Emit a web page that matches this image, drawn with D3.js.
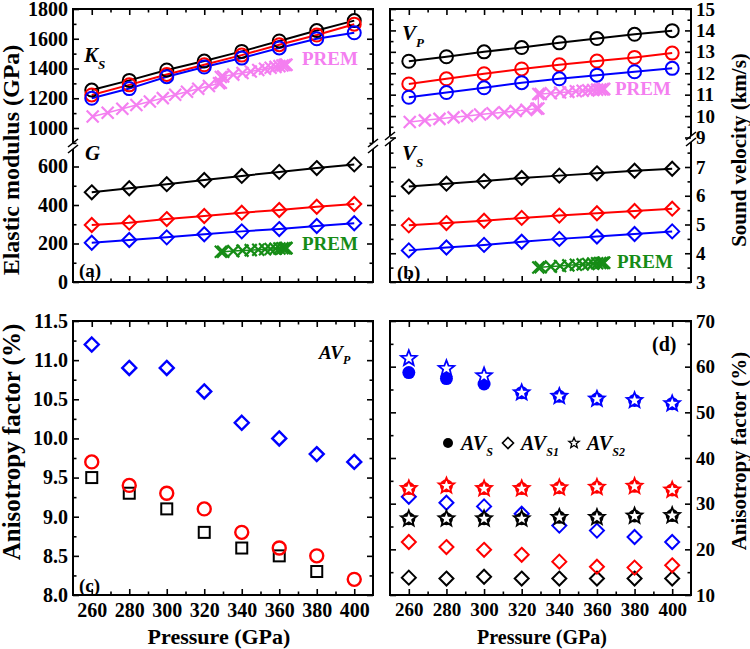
<!DOCTYPE html>
<html><head><meta charset="utf-8">
<script src="https://cdn.jsdelivr.net/npm/d3@7"></script>
<style>
body{margin:0;background:#fff}
svg{display:block}
text{font-family:"Liberation Serif","Times New Roman",serif;font-weight:bold}
</style>
</head><body><svg id="c" width="750" height="649"></svg>
<script>
// ---------------- data ----------------
const pressure = [260, 280, 300, 320, 340, 360, 380, 400];
const xTicks = [260, 280, 300, 320, 340, 360, 380, 400];

// (a) elastic moduli (GPa)
const KsBlack = [1255, 1320, 1390, 1450, 1515, 1585, 1655, 1722];
const KsRed   = [1222, 1290, 1360, 1425, 1490, 1560, 1625, 1698];
const KsBlue  = [1200, 1265, 1345, 1410, 1470, 1538, 1600, 1640];
const GBlack  = [466, 487, 508, 530, 551, 572, 592, 611];
const GRed    = [296, 308, 327, 343, 360, 374, 391, 405];
const GBlue   = [204, 218, 232, 248, 263, 275, 291, 305];

// (b) sound velocities (km/s)
const VpBlack = [12.56, 12.77, 13.0, 13.2, 13.42, 13.62, 13.82, 13.99];
const VpRed   = [11.5, 11.74, 11.98, 12.2, 12.4, 12.57, 12.74, 12.94];
const VpBlue  = [10.88, 11.1, 11.32, 11.56, 11.74, 11.91, 12.07, 12.23];
const VsBlack = [6.32, 6.42, 6.51, 6.62, 6.7, 6.78, 6.87, 6.94];
const VsRed   = [4.97, 5.05, 5.13, 5.23, 5.31, 5.39, 5.47, 5.55];
const VsBlue  = [4.1, 4.2, 4.29, 4.4, 4.5, 4.58, 4.67, 4.76];

// PREM (outer + inner core)
const premP   = [260.5, 268.5, 276.3, 283.8, 291.0, 297.9, 304.5, 310.8, 316.8, 322.5, 327.9, 328.85,
                 328.85, 330.1, 335.5, 340.4, 344.8, 348.8, 352.4, 355.4, 358.0, 360.1, 361.7, 362.9, 363.6, 363.85];
const premKs  = [1077, 1103, 1129, 1154, 1178, 1201, 1223, 1244, 1264, 1283, 1301, 1304.7,
                 1343.4, 1346, 1359, 1370, 1380, 1390, 1398, 1405, 1411, 1416, 1420, 1423, 1424.7, 1425.3];
const premVp  = [9.72, 9.8, 9.87, 9.94, 10.0, 10.07, 10.13, 10.18, 10.24, 10.29, 10.34, 10.356,
                 11.028, 11.032, 11.07, 11.1, 11.13, 11.16, 11.18, 11.2, 11.22, 11.235, 11.245, 11.255, 11.26, 11.262];
const premPin = [328.85, 330.1, 335.5, 340.4, 344.8, 348.8, 352.4, 355.4, 358.0, 360.1, 361.7, 362.9, 363.6, 363.85];
const premG   = [156.7, 157.4, 160.4, 163.1, 165.5, 167.7, 169.7, 171.4, 172.8, 174.0, 174.9, 175.5, 175.9, 176.1];
const premVs  = [3.504, 3.51, 3.535, 3.558, 3.579, 3.597, 3.614, 3.628, 3.64, 3.65, 3.658, 3.663, 3.667, 3.668];

// (c) AVp (%)
const AVpBlack = [9.5, 9.3, 9.1, 8.8, 8.6, 8.5, 8.3, null];
const AVpRed   = [9.7, 9.4, 9.3, 9.1, 8.8, 8.6, 8.5, 8.2];
const AVpBlue  = [11.2, 10.9, 10.9, 10.6, 10.2, 10.0, 9.8, 9.7];

// (d) AVs, AVs1, AVs2 (%)
const AVsBlue   = [58.7, 57.4, 56.2, 54.3, 53.5, 52.9, 52.6, 51.9];
const AVs2Blue  = [61.8, 59.6, 58.0, 54.3, 53.5, 52.9, 52.6, 51.9];
const AVs1Blue  = [31.5, 30.2, 29.4, 27.8, 25.2, 24.1, 22.7, 21.6];
const AVsRed    = [33.3, 33.9, 33.3, 33.3, 33.5, 33.6, 33.8, 33.0];
const AVs2Red   = [33.3, 33.9, 33.3, 33.3, 33.5, 33.6, 33.8, 33.0];
const AVs1Red   = [21.6, 20.5, 19.9, 18.8, 17.3, 16.2, 16.0, 16.5];
const AVsBlack  = [26.7, 26.7, 26.7, 26.7, 27.0, 27.0, 27.3, 27.4];
const AVs2Black = [26.7, 26.7, 26.7, 26.7, 27.0, 27.0, 27.3, 27.4];
const AVs1Black = [13.8, 13.6, 14.0, 13.6, 13.6, 13.6, 13.6, 13.6];

// ---------------- drawing ----------------
const BLACK = "#000", RED = "#ff0000", BLUE = "#0000ff", PINK = "#f47ff0", GREEN = "#168c16";
const svg = d3.select("#c");
const P = {
  a: {x0: 73, x1: 373, y0: 9, y1: 282, brk: 146},
  b: {x0: 390, x1: 691, y0: 9, y1: 282, brk: 139},
  c: {x0: 73, x1: 373, y0: 321, y1: 595},
  d: {x0: 390, x1: 691, y0: 321, y1: 595}
};
const xs = {};
for (const k of ["a","b","c","d"]) xs[k] = d3.scaleLinear().domain([250, 410]).range([P[k].x0, P[k].x1]);

// y scales
const yaU = d3.scaleLinear().domain([1000, 1800]).range([128, 9]);
const yaL = d3.scaleLinear().domain([0, 600]).range([282, 166.5]);
const ybU = d3.scaleLinear().domain([9, 15]).range([137.5, 9]);
const ybL = d3.scaleLinear().domain([3, 7]).range([282, 167]);
const yc  = d3.scaleLinear().domain([8, 11.5]).range([595, 321]);
const yd  = d3.scaleLinear().domain([10, 70]).range([595, 321]);

function styleAxis(g, fs) {
  g.select(".domain").remove();
  g.selectAll(".tick line").attr("stroke", "#000").attr("stroke-width", 1.6);
  g.selectAll("text").style("font-size", fs + "px").style("fill", "#000");
}
function xAxes(k, labels, fs) {
  const p = P[k], x = xs[k];
  const minor = [270, 290, 310, 330, 350, 370, 390];
  let g = svg.append("g").attr("transform", `translate(0,${p.y1})`)
    .call(d3.axisBottom(x).tickValues(xTicks).tickSizeInner(-6).tickSizeOuter(0).tickPadding(8)
      .tickFormat(labels ? d3.format("d") : () => ""));
  styleAxis(g, fs);
  g = svg.append("g").attr("transform", `translate(0,${p.y1})`)
    .call(d3.axisBottom(x).tickValues(minor).tickSizeInner(-3.5).tickSizeOuter(0).tickFormat(() => ""));
  styleAxis(g, fs);
  g = svg.append("g").attr("transform", `translate(0,${p.y0})`)
    .call(d3.axisTop(x).tickValues(xTicks).tickSizeInner(-6).tickSizeOuter(0).tickFormat(() => ""));
  styleAxis(g, fs);
  g = svg.append("g").attr("transform", `translate(0,${p.y0})`)
    .call(d3.axisTop(x).tickValues(minor).tickSizeInner(-3.5).tickSizeOuter(0).tickFormat(() => ""));
  styleAxis(g, fs);
}
function yAxes(k, scale, major, minor, labelSide, fmt, fs) {
  const p = P[k];
  let g = svg.append("g").attr("transform", `translate(${p.x0},0)`)
    .call(d3.axisLeft(scale).tickValues(major).tickSizeInner(-6).tickSizeOuter(0).tickPadding(5)
      .tickFormat(labelSide === "left" ? fmt : () => ""));
  styleAxis(g, fs);
  g = svg.append("g").attr("transform", `translate(${p.x0},0)`)
    .call(d3.axisLeft(scale).tickValues(minor).tickSizeInner(-3.5).tickSizeOuter(0).tickFormat(() => ""));
  styleAxis(g, fs);
  g = svg.append("g").attr("transform", `translate(${p.x1},0)`)
    .call(d3.axisRight(scale).tickValues(major).tickSizeInner(-6).tickSizeOuter(0).tickPadding(5)
      .tickFormat(labelSide === "right" ? fmt : () => ""));
  styleAxis(g, fs);
  g = svg.append("g").attr("transform", `translate(${p.x1},0)`)
    .call(d3.axisRight(scale).tickValues(minor).tickSizeInner(-3.5).tickSizeOuter(0).tickFormat(() => ""));
  styleAxis(g, fs);
}
function frame(k) {
  const p = P[k];
  const f = svg.append("g").attr("stroke", "#000").attr("stroke-width", 2).attr("fill", "none");
  f.append("line").attr("x1", p.x0 - 1).attr("x2", p.x1 + 1).attr("y1", p.y0).attr("y2", p.y0);
  f.append("line").attr("x1", p.x0 - 1).attr("x2", p.x1 + 1).attr("y1", p.y1).attr("y2", p.y1);
  for (const x of [p.x0, p.x1]) {
    if (p.brk) {
      f.append("line").attr("x1", x).attr("x2", x).attr("y1", p.y0).attr("y2", p.brk - 3);
      f.append("line").attr("x1", x).attr("x2", x).attr("y1", p.brk + 3).attr("y2", p.y1);
      for (const d of [-3, 3]) {
        f.append("line").attr("stroke-width", 1.6)
          .attr("x1", x - 5).attr("y1", p.brk + d + 4).attr("x2", x + 5).attr("y2", p.brk + d - 4);
      }
    } else {
      f.append("line").attr("x1", x).attr("x2", x).attr("y1", p.y0).attr("y2", p.y1);
    }
  }
}

// markers
const diamondPath = r => `M0,${-r}L${r},0L0,${r}L${-r},0Z`;
const starPath = (R, r) => {
  let s = "";
  for (let i = 0; i < 10; i++) {
    const a = -Math.PI / 2 + i * Math.PI / 5, rr = i % 2 ? r : R;
    s += (i ? "L" : "M") + (rr * Math.cos(a)).toFixed(2) + "," + (rr * Math.sin(a)).toFixed(2);
  }
  return s + "Z";
};
function pts(xv, yv) { return xv.map((x, i) => [x, yv[i]]).filter(d => d[1] != null); }
function line(k, ys, xv, yv, color, w) {
  svg.append("path").datum(pts(xv, yv)).attr("fill", "none").attr("stroke", color).attr("stroke-width", w || 2)
    .attr("d", d3.line().x(d => xs[k](d[0])).y(d => ys(d[1])));
}
function marks(k, ys, xv, yv, type, color, opt = {}) {
  const g = svg.append("g");
  const sel = g.selectAll("x").data(pts(xv, yv)).enter();
  const tx = d => `translate(${xs[k](d[0])},${ys(d[1])})`;
  if (type === "circle") sel.append("circle").attr("r", opt.r || 6.5).attr("transform", tx)
      .attr("fill", opt.fill || "none").attr("stroke", opt.sw === 0 ? "none" : color).attr("stroke-width", opt.sw || 2);
  if (type === "diamond") sel.append("path").attr("d", diamondPath(opt.r || 7)).attr("transform", tx)
      .attr("fill", "none").attr("stroke", color).attr("stroke-width", opt.sw || 2);
  if (type === "square") sel.append("rect").attr("x", -5.5).attr("y", -5.5).attr("width", 11).attr("height", 11)
      .attr("transform", tx).attr("fill", "none").attr("stroke", color).attr("stroke-width", 2);
  if (type === "cross") sel.append("path").attr("d", `M-6,-6L6,6M-6,6L6,-6`).attr("transform", tx)
      .attr("stroke", color).attr("stroke-width", opt.sw || 2.2).attr("fill", "none");
  if (type === "star") sel.append("path").attr("d", starPath(8.2, 3.5)).attr("transform", tx)
      .attr("fill", "#fff").attr("stroke", color).attr("stroke-width", 1.8);
}

// ---- panel (a)
xAxes("a", false, 20);
yAxes("a", yaU, [1000, 1200, 1400, 1600, 1800], [900, 1100, 1300, 1500, 1700], "left", d3.format("d"), 20);
yAxes("a", yaL, [0, 200, 400, 600], [100, 300, 500], "left", d3.format("d"), 20);
frame("a");
line("a", yaU, premP, premKs, PINK, 1.5);
marks("a", yaU, premP, premKs, "cross", PINK);
line("a", yaU, pressure, KsBlack, BLACK); line("a", yaU, pressure, KsRed, RED); line("a", yaU, pressure, KsBlue, BLUE);
marks("a", yaU, pressure, KsBlack, "circle", BLACK);
marks("a", yaU, pressure, KsRed, "circle", RED);
marks("a", yaU, pressure, KsBlue, "circle", BLUE);
line("a", yaL, pressure, GBlack, BLACK); line("a", yaL, pressure, GRed, RED); line("a", yaL, pressure, GBlue, BLUE);
marks("a", yaL, pressure, GBlack, "diamond", BLACK);
marks("a", yaL, pressure, GRed, "diamond", RED);
marks("a", yaL, pressure, GBlue, "diamond", BLUE);
line("a", yaL, premPin, premG, GREEN, 1.5);
marks("a", yaL, premPin, premG, "cross", GREEN);

// ---- panel (b)
xAxes("b", false, 19);
yAxes("b", ybU, [9, 10, 11, 12, 13, 14, 15], [9.5, 10.5, 11.5, 12.5, 13.5, 14.5], "right", d3.format("d"), 19);
yAxes("b", ybL, [3, 4, 5, 6, 7], [3.5, 4.5, 5.5, 6.5, 7.5], "right", d3.format("d"), 19);
frame("b");
line("b", ybU, pressure, VpBlack, BLACK); line("b", ybU, pressure, VpRed, RED); line("b", ybU, pressure, VpBlue, BLUE);
marks("b", ybU, pressure, VpBlack, "circle", BLACK);
marks("b", ybU, pressure, VpRed, "circle", RED);
marks("b", ybU, pressure, VpBlue, "circle", BLUE);
line("b", ybU, premP, premVp, PINK, 1.5);
marks("b", ybU, premP, premVp, "cross", PINK);
line("b", ybL, pressure, VsBlack, BLACK); line("b", ybL, pressure, VsRed, RED); line("b", ybL, pressure, VsBlue, BLUE);
marks("b", ybL, pressure, VsBlack, "diamond", BLACK);
marks("b", ybL, pressure, VsRed, "diamond", RED);
marks("b", ybL, pressure, VsBlue, "diamond", BLUE);
line("b", ybL, premPin, premVs, GREEN, 1.5);
marks("b", ybL, premPin, premVs, "cross", GREEN);

// ---- panel (c)
xAxes("c", true, 20);
yAxes("c", yc, [8, 8.5, 9, 9.5, 10, 10.5, 11, 11.5], [8.25, 8.75, 9.25, 9.75, 10.25, 10.75, 11.25], "left", d3.format(".1f"), 20);
frame("c");
marks("c", yc, pressure, AVpBlack, "square", BLACK);
marks("c", yc, pressure, AVpRed, "circle", RED, {sw: 2.4});
marks("c", yc, pressure, AVpBlue, "diamond", BLUE, {sw: 2.4});

// ---- panel (d)
xAxes("d", true, 19);
yAxes("d", yd, [10, 20, 30, 40, 50, 60, 70], [15, 25, 35, 45, 55, 65], "right", d3.format("d"), 19);
frame("d");
marks("d", yd, pressure, AVs1Black, "diamond", BLACK);
marks("d", yd, pressure, AVs1Red, "diamond", RED);
marks("d", yd, pressure, AVs1Blue, "diamond", BLUE);
marks("d", yd, pressure, AVsBlack, "circle", BLACK, {fill: BLACK, sw: 0});
marks("d", yd, pressure, AVsRed, "circle", RED, {fill: RED, sw: 0});
marks("d", yd, pressure, AVsBlue, "circle", BLUE, {fill: BLUE, sw: 0});
marks("d", yd, pressure, AVs2Black, "star", BLACK);
marks("d", yd, pressure, AVs2Red, "star", RED);
marks("d", yd, pressure, AVs2Blue, "star", BLUE);

// ---------------- text ----------------
function t(x, y, s, fs, opt = {}) {
  const e = svg.append("text").attr("x", x).attr("y", y).style("font-size", fs + "px").style("fill", opt.fill || "#000").text(s);
  if (opt.anchor) e.attr("text-anchor", opt.anchor);
  if (opt.italic) e.style("font-style", "italic");
  return e;
}
function sub(x, y, main, s, fs, sfs, dy) {
  const e = svg.append("text").attr("x", x).attr("y", y).style("font-size", fs + "px").style("font-style", "italic").style("fill", "#000");
  e.append("tspan").text(main);
  e.append("tspan").style("font-size", sfs + "px").attr("dy", dy).text(s);
  return e;
}
sub(84, 62, "K", "S", 21, 13, 7);
t(85, 160, "G", 21, {italic: true});
t(302, 65, "PREM", 19, {fill: PINK});
t(302, 250, "PREM", 19, {fill: GREEN});
t(79, 277, "(a)", 19);

sub(402, 40, "V", "P", 21, 13, 7);
sub(402, 160, "V", "S", 21, 13, 7);
t(615, 95, "PREM", 19, {fill: PINK});
t(617, 268, "PREM", 19, {fill: GREEN});
t(397, 279, "(b)", 19);

sub(319, 359, "AV", "P", 19, 12, 5);
t(79, 592, "(c)", 19);
t(652, 351, "(d)", 20);

// legend (d)
svg.append("circle").attr("cx", 448).attr("cy", 443).attr("r", 5).attr("fill", "#000");
sub(461, 450, "AV", "S", 20, 12, 6);
svg.append("path").attr("d", diamondPath(5.5)).attr("transform", "translate(508,443)").attr("fill", "none").attr("stroke", "#000").attr("stroke-width", 1.6);
sub(521, 450, "AV", "S1", 20, 12, 6);
svg.append("path").attr("d", starPath(5.5, 2.4)).attr("transform", "translate(574,443)").attr("fill", "none").attr("stroke", "#000").attr("stroke-width", 1.3);
sub(587, 450, "AV", "S2", 20, 12, 6);

// axis titles
function vt(x, y, s, fs) {
  svg.append("text").attr("transform", `translate(${x},${y}) rotate(-90)`).attr("text-anchor", "middle")
    .attr("dy", "0.35em").style("font-size", fs + "px").style("fill", "#000").text(s);
}
vt(11, 160, "Elastic modulus (GPa)", 24);
vt(11, 442, "Anisotropy factor (%)", 25);
vt(739, 150, "Sound velocity (km/s)", 21);
vt(739, 451, "Anisotropy factor (%)", 21);
t(219, 644, "Pressure (GPa)", 22, {anchor: "middle"});
t(542, 644, "Pressure (GPa)", 20, {anchor: "middle"});
</script></body></html>
